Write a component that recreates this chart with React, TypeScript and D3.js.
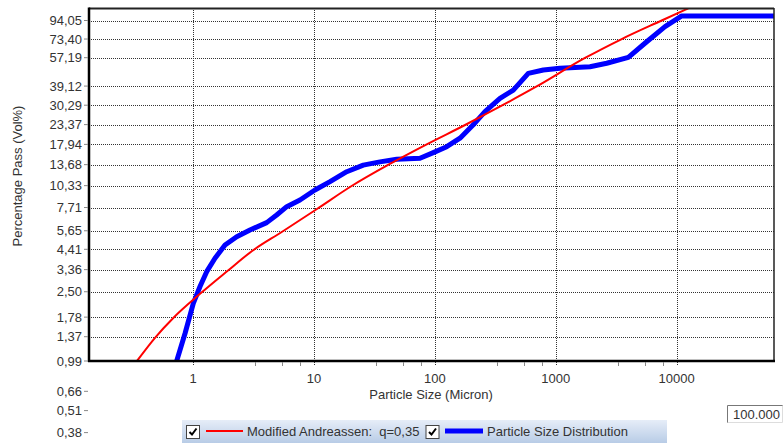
import React from "react";
import * as d3 from "d3";

// Particle size (micron) / cumulative percentage passing (vol%)
const psdSize = [0.72, 0.859, 1.006, 1.143, 1.298, 1.52, 1.84, 2.3, 2.96, 4.07, 4.92, 5.96, 7.67, 10.2, 13.6, 18.7, 25.6, 35.2, 48.4, 75.4, 97.2, 125.5, 161.6, 208, 260, 346, 446, 593, 790, 1085, 1921, 2641, 3987, 5657, 8017, 11020, 13000, 64000];
const psdPass = [0.95, 1.43, 2.14, 2.68, 3.27, 3.91, 4.67, 5.22, 5.71, 6.3, 6.98, 7.8, 8.53, 9.75, 10.9, 12.45, 13.6, 14.2, 14.7, 14.9, 16.06, 17.4, 19.5, 23.3, 27.8, 33.2, 37.1, 46.4, 48.5, 49.6, 50.7, 53.1, 57.5, 70.8, 86.6, 100, 100, 100];

// Modified Andreassen fit, q = 0,35
const fitSize = [0.344, 0.485, 0.687, 1.143, 1.948, 3.08, 5.42, 10.6, 20.5, 41.0, 85.7, 178, 360, 683, 1747, 3515, 7528, 12500];
const fitPass = [0.99, 1.35, 1.76, 2.43, 3.32, 4.31, 5.56, 7.56, 10.28, 13.62, 17.96, 23.25, 30.18, 38.65, 56.96, 73.4, 94.05, 110.7];

const yTickValues = [94.05, 73.4, 57.19, 39.12, 30.29, 23.37, 17.94, 13.68, 10.33, 7.71, 5.65, 4.41, 3.36, 2.5, 1.78, 1.37, 0.99, 0.66, 0.51, 0.38];
const xTickValues = [1, 10, 100, 1000, 10000];
const xMinorSteps = [3.25, 5.45, 7.65];
const xMinorDecades = [1, 10, 100, 1000];

const seriesNames = ["Modified Andreassen:  q=0,35", "Particle Size Distribution"];
const scaleValueText = "100.000";

const FONT = "'Liberation Sans', Arial, sans-serif";

export default function App() {
  const left = 89, top = 8, right = 774, bottom = 361;

  const x = d3.scaleLog().domain([0.138, 63900]).range([left, right]);
  const y = d3.scaleLog().domain([0.99, 94.05]).range([bottom, 20.5]);

  const psdLine = d3
    .line<[number, number]>()
    .x((d) => x(d[0]))
    .y((d) => y(d[1]));
  const fitLine = d3
    .line<[number, number]>()
    .x((d) => x(d[0]))
    .y((d) => y(d[1]))
    .curve(d3.curveMonotoneX);

  const psd = psdSize.map((s, i) => [s, psdPass[i]] as [number, number]);
  const fit = fitSize.map((s, i) => [s, fitPass[i]] as [number, number]);

  const fmt = (v: number) => d3.format(".2f")(v).replace(".", ",");
  const minorTicks = xMinorDecades.flatMap((d) => xMinorSteps.map((m) => m * d));

  return (
    <svg
      width={784}
      height={445}
      style={{ position: "absolute", left: 0, top: 0, background: "#fff" }}
      fontFamily={FONT}
    >
      <defs>
        <clipPath id="plotClip">
          <rect x={left} y={top} width={right - left} height={bottom - top} />
        </clipPath>
        <linearGradient id="legendBg" x1="0" y1="0" x2="0" y2="1">
          <stop offset="0" stopColor="#e6edf8" />
          <stop offset="1" stopColor="#b8cce6" />
        </linearGradient>
      </defs>

      {/* horizontal grid */}
      {yTickValues
        .filter((v) => v > 1)
        .map((v) => (
          <line
            key={"hg" + v}
            x1={left}
            x2={right}
            y1={Math.round(y(v)) + 0.5}
            y2={Math.round(y(v)) + 0.5}
            stroke="#333"
            strokeWidth={1}
            strokeDasharray="1 1"
          />
        ))}
      {/* vertical grid */}
      {xTickValues.map((v) => (
        <line
          key={"vg" + v}
          x1={Math.round(x(v)) + 0.5}
          x2={Math.round(x(v)) + 0.5}
          y1={top}
          y2={bottom + 5}
          stroke="#333"
          strokeWidth={1}
          strokeDasharray="1 1"
        />
      ))}

      {/* curves */}
      <g clipPath="url(#plotClip)">
        <path d={psdLine(psd) || ""} fill="none" stroke="#0000ff" strokeWidth={5} strokeLinejoin="round" />
        <path d={fitLine(fit) || ""} fill="none" stroke="#ff0000" strokeWidth={2} />
      </g>

      {/* frame */}
      <line x1={left} x2={right} y1={top + 0.5} y2={top + 0.5} stroke="#222" strokeWidth={2} />
      <line x1={right} x2={right} y1={top} y2={bottom} stroke="#222" strokeWidth={1.5} />
      <line x1={left} x2={left} y1={top - 0.5} y2={bottom + 1} stroke="#000" strokeWidth={2.5} />
      <line x1={left - 1} x2={right + 1} y1={bottom} y2={bottom} stroke="#000" strokeWidth={2.5} />

      {/* y ticks and labels */}
      {yTickValues.map((v) => (
        <g key={"yt" + v}>
          <line x1={left - 5} x2={left - 1} y1={y(v)} y2={y(v)} stroke="#888" strokeWidth={1} />
          <text x={left - 7} y={y(v)} dy="0.35em" textAnchor="end" fontSize={13} fill="#333">
            {fmt(v)}
          </text>
        </g>
      ))}

      {/* x ticks and labels */}
      {minorTicks.map((v) => (
        <line
          key={"xm" + v}
          x1={Math.round(x(v)) + 0.5}
          x2={Math.round(x(v)) + 0.5}
          y1={bottom + 1}
          y2={bottom + 5}
          stroke="#888"
          strokeWidth={1}
        />
      ))}
      {xTickValues.map((v) => (
        <text key={"xl" + v} x={x(v)} y={383} textAnchor="middle" fontSize={13} fill="#333">
          {String(v)}
        </text>
      ))}

      {/* axis titles */}
      <text x={431} y={399} textAnchor="middle" fontSize={13} fill="#333">
        Particle Size (Micron)
      </text>
      <text
        transform="translate(22,176) rotate(-90)"
        textAnchor="middle"
        fontSize={13}
        fill="#333"
      >
        Percentage Pass (Vol%)
      </text>

      {/* legend */}
      <g>
        <rect x={182} y={420} width={485} height={23} fill="url(#legendBg)" />
        {[0, 1].map((i) => {
          const bx = i === 0 ? 186 : 425.5;
          return (
            <g key={"cb" + i}>
              <rect x={bx + 0.5} y={425.5} width={13} height={13} fill="#fff" stroke="#444" strokeWidth={1} />
              <path
                d={`M${bx + 3.5},${432} L${bx + 6},${434.5} L${bx + 10.5},${428.5}`}
                fill="none"
                stroke="#000"
                strokeWidth={2}
              />
            </g>
          );
        })}
        <line x1={206} x2={243} y1={431} y2={431} stroke="#ff0000" strokeWidth={2} />
        <text x={247} y={436} fontSize={13} fill="#333" style={{ whiteSpace: "pre" }}>
          {seriesNames[0]}
        </text>
        <line x1={445} x2={483} y1={431} y2={431} stroke="#0000ff" strokeWidth={5} />
        <text x={487} y={436} fontSize={13} fill="#333">
          {seriesNames[1]}
        </text>
      </g>

      {/* scale value box */}
      <g>
        <rect x={727} y={405} width={56} height={18} fill="#fff" />
        <path d="M727.5,423 V405.5 H783" fill="none" stroke="#777" strokeWidth={1} />
        <path d="M727.5,422.5 H782.5 V405.5" fill="none" stroke="#ddd" strokeWidth={1} />
        <text x={780} y={419} textAnchor="end" fontSize={13} fill="#333">
          {scaleValueText}
        </text>
      </g>
    </svg>
  );
}
